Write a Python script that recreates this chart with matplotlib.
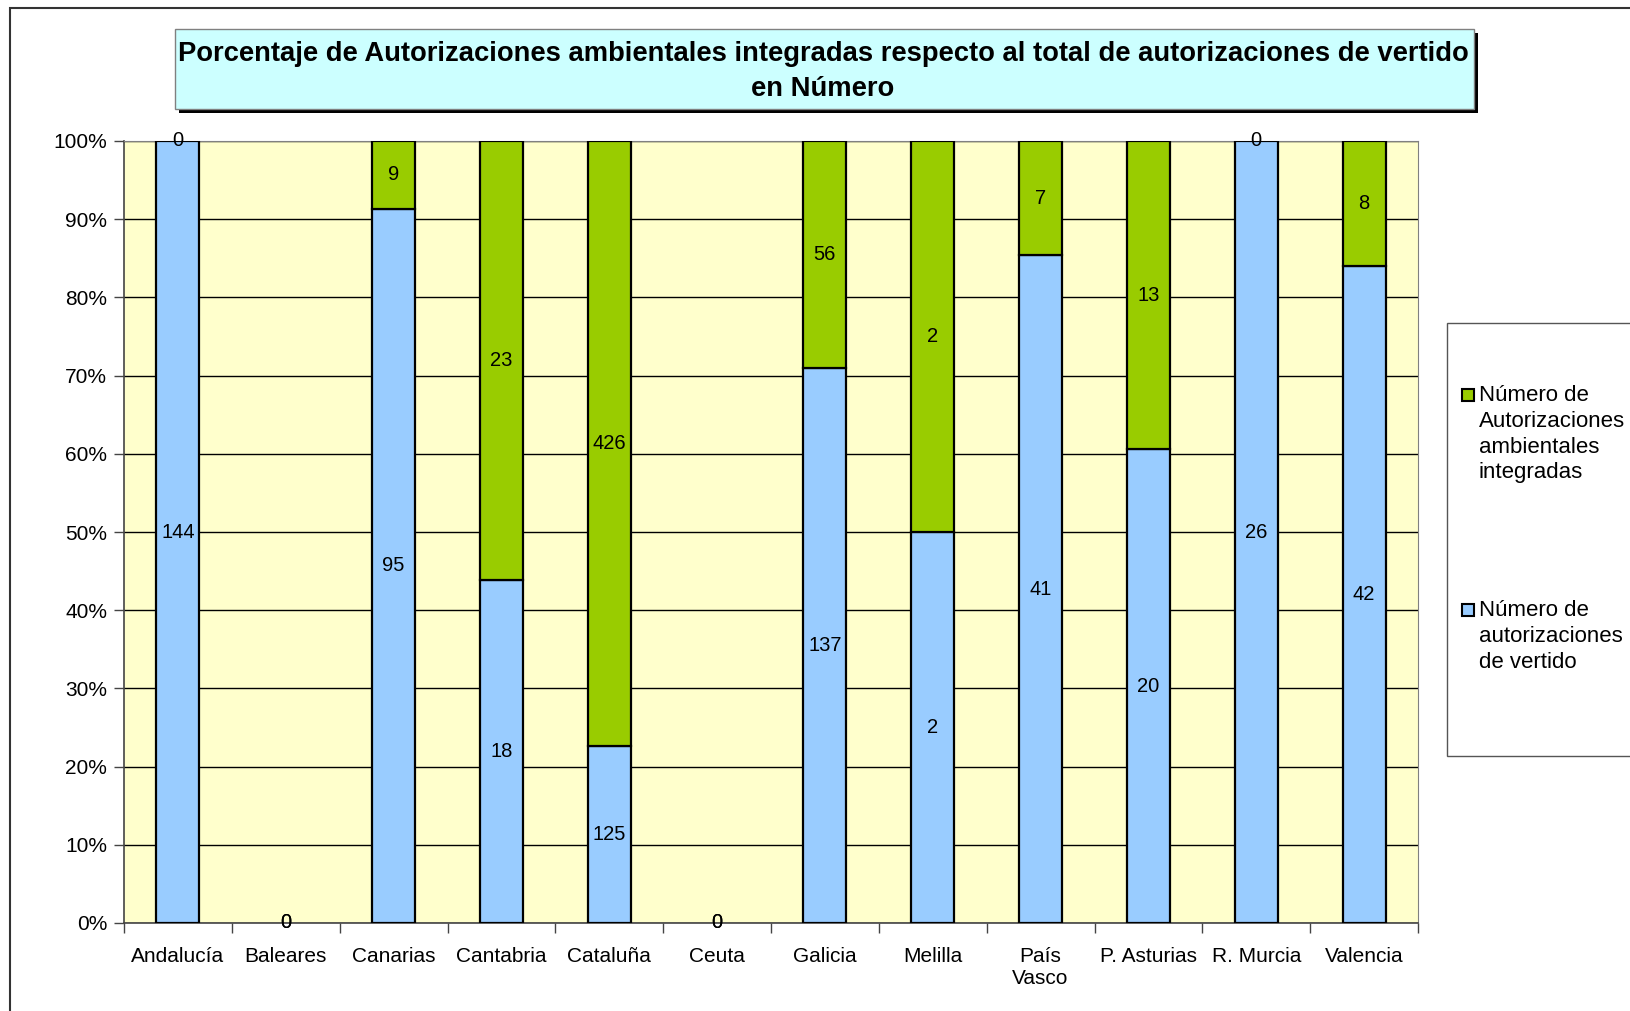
import numpy as np
import matplotlib

matplotlib.use('Agg')
import matplotlib.pyplot as plt
from matplotlib.patches import Rectangle
from matplotlib.ticker import FuncFormatter

plt.rcParams['font.family'] = ['Liberation Sans', 'DejaVu Sans']

regions = ['Andalucía', 'Baleares', 'Canarias', 'Cantabria', 'Cataluña', 'Ceuta',
           'Galicia', 'Melilla', 'País\nVasco', 'P. Asturias', 'R. Murcia', 'Valencia']
vertido = [144, 0, 95, 18, 125, 0, 137, 2, 41, 20, 26, 42]
integradas = [0, 0, 9, 23, 426, 0, 56, 2, 7, 13, 0, 8]

label_vertido = 'Número de\nautorizaciones\nde vertido'
label_integradas = 'Número de\nAutorizaciones\nambientales\nintegradas'
title = ('Porcentaje de Autorizaciones ambientales integradas respecto al total de autorizaciones de vertido\n'
         'en Número')

col_blue = '#99CCFF'
col_green = '#99CC00'

W, H = 1630, 1011
fig = plt.figure(figsize=(W / 100, H / 100), dpi=100)


def fx(px):
    return px / W


def fy(py):
    return 1 - py / H


ax = fig.add_axes([fx(124), fy(923), fx(1418) - fx(124), fy(141) - fy(923)])
ax.set_facecolor('#FFFFCC')

v = np.array(vertido, dtype=float)
g = np.array(integradas, dtype=float)
tot = v + g
pv = np.divide(v, tot, out=np.zeros_like(v), where=tot > 0) * 100
pg = np.divide(g, tot, out=np.zeros_like(g), where=tot > 0) * 100
x = np.arange(len(regions))

# no outline on empty segments
lw_v = [1.6 if h > 0 else 0 for h in pv]
lw_g = [1.6 if h > 0 else 0 for h in pg]
ax.bar(x, pv, 0.4, color=col_blue, edgecolor='black', linewidth=lw_v, zorder=3)
ax.bar(x, pg, 0.4, bottom=pv, color=col_green, edgecolor='black', linewidth=lw_g, zorder=3)

for i in range(len(regions)):
    ax.text(x[i], pv[i] / 2, str(vertido[i]), ha='center', va='center', fontsize=14.5, zorder=5)
    ax.text(x[i], pv[i] + pg[i] / 2, str(integradas[i]), ha='center', va='center', fontsize=14.5, zorder=5)

ax.set_xlim(-0.5, len(regions) - 0.5)
ax.set_ylim(0, 100)
ax.set_yticks(np.arange(0, 101, 10))
ax.yaxis.set_major_formatter(FuncFormatter(lambda val, pos: '%d%%' % val))
ax.yaxis.grid(True, color='black', linewidth=1.0, zorder=1)
ax.set_axisbelow(True)

ax.set_xticks(np.arange(-0.5, len(regions), 1))
ax.set_xticklabels([])
ax.set_xticks(x, minor=True)
ax.set_xticklabels(regions, minor=True, fontsize=15)
ax.tick_params(axis='x', which='minor', length=0, pad=17)
ax.tick_params(axis='x', which='major', length=7, width=1, color='#444444')
ax.tick_params(axis='y', length=7, width=1, color='#444444', labelsize=15, pad=5)

for side in ['top', 'right']:
    ax.spines[side].set_color('#808080')
for side in ['left', 'bottom']:
    ax.spines[side].set_color('#444444')
    ax.spines[side].set_linewidth(1.2)

# outer border
fig.patches.append(Rectangle((fx(10), fy(1200)), 1.5, fy(8) - fy(1200), transform=fig.transFigure,
                             facecolor='none', edgecolor='#333333', linewidth=1.5))

# title box with shadow
fig.patches.append(Rectangle((fx(179), fy(113)), fx(1474) - fx(175), fy(29) - fy(109),
                             transform=fig.transFigure, facecolor='black', edgecolor='none'))
fig.patches.append(Rectangle((fx(175), fy(109)), fx(1474) - fx(175), fy(29) - fy(109),
                             transform=fig.transFigure, facecolor='#CCFFFF', edgecolor='#808080',
                             linewidth=1))
fig.text(fx(823), fy(71.5), title, ha='center', va='center', fontsize=19.7, fontweight='bold',
         linespacing=1.45)

# legend
fig.patches.append(Rectangle((fx(1447), fy(756)), 0.5, fy(323) - fy(756), transform=fig.transFigure,
                             facecolor='white', edgecolor='#555555', linewidth=1))
for lab, col, yc in [(label_integradas, col_green, 395), (label_vertido, col_blue, 610)]:
    fig.patches.append(Rectangle((fx(1462), fy(yc + 6)), fx(12), fy(0) - fy(12),
                                 transform=fig.transFigure, facecolor=col, edgecolor='black',
                                 linewidth=1.5))
    fig.text(fx(1479), fy(yc - 10), lab, ha='left', va='top', fontsize=16, linespacing=1.3)

fig.savefig('out.png', dpi=100)
